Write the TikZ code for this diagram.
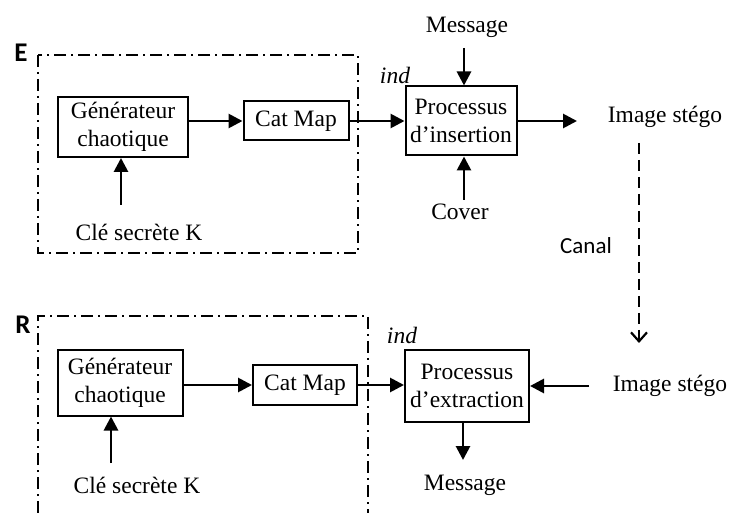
\documentclass[tikz,border=0pt]{standalone}
\usepackage{fontspec}
\setmainfont{Liberation Serif}
\newfontfamily\calibri{Carlito}
\usetikzlibrary{arrows.meta}
\begin{document}
\begin{tikzpicture}
[x=1pt, y=-1pt,
 font=\fontsize{23.5}{28}\selectfont,
 block/.style ={rectangle, draw, line width=2pt, align=center, inner sep=2pt},
 tag/.style ={font=\calibri\bfseries\fontsize{27}{30}\selectfont},
 line/.style ={draw, line width=2.8pt, -{Triangle[length=14pt,width=14pt]}},
 canal/.style ={draw, line width=2.4pt, dash pattern=on 11pt off 6pt, -{Straight Barb[length=9pt,width=16pt,line width=2.2pt]}},
 zone/.style ={draw, line width=2pt, dash pattern=on 12pt off 5pt on 2pt off 5pt}]
\useasboundingbox (0,0) rectangle (729,513);
% emetteur
\draw[zone] (38,55) rectangle (358,253);
\node[tag] (E) at (21,53) {E};
\path (123,127) node[block, minimum width=130pt, minimum height=60pt] (gen1) {Générateur\\chaotique}
      (296,121) node[block, minimum width=105pt, minimum height=39pt] (cat1) {Cat Map}
      (461,121) node[block, minimum width=111pt, minimum height=69pt] (ins) {Processus\\d’insertion}
      (139,232) node (key1) {Clé secrète K}
      (467,27) node (msg1) {Message}
      (460,212) node (cover) {Cover}
      (665,117) node (steg1) {Image stégo}
      (395,75) node (ind1) {\itshape ind};
\coordinate (k1) at (121,205);
\coordinate (m1) at (464,48);
\coordinate (c1) at (464,200);
\coordinate (o1) at (577,121);
\draw[line] (k1) -- (k1 |- gen1.south);
\draw[line] (gen1.east |- cat1) -- (cat1.west);
\draw[line] (cat1.east) -- (ins.west);
\draw[line] (m1) -- (m1 |- ins.north);
\draw[line] (c1) -- (c1 |- ins.south);
\draw[line] (ins.east) -- (o1);
% canal
\coordinate (s1) at (639,143);
\coordinate (s2) at (639,343);
\draw[canal] (s1) -- (s2);
\node[font=\calibri\fontsize{23}{27}\selectfont] (canal) at (586,246) {Canal};
% recepteur
\draw[zone] (38,513) -- (38,316) -- (368,316) -- (368,513);
\node[tag] (R) at (23,325) {R};
\path (120,383) node[block, minimum width=125pt, minimum height=65pt] (gen2) {Générateur\\chaotique}
      (305,385) node[block, minimum width=104pt, minimum height=40pt] (cat2) {Cat Map}
      (467,386) node[block, minimum width=124pt, minimum height=71pt] (ext) {Processus\\d’extraction}
      (137,485) node (key2) {Clé secrète K}
      (465,485) node (msg2) {Message}
      (670,386) node (steg2) {Image stégo}
      (402,335) node (ind2) {\itshape ind};
\coordinate (k2) at (111,463);
\coordinate (m2) at (463,460);
\coordinate (i2) at (589,386);
\draw[line] (k2) -- (k2 |- gen2.south);
\draw[line] (gen2.east |- cat2) -- (cat2.west);
\draw[line] (cat2.east) -- (ext.west |- cat2);
\draw[line] (i2) -- (ext.east);
\draw[line] (ext.south -| m2) -- (m2);
\end{tikzpicture}
\end{document}
